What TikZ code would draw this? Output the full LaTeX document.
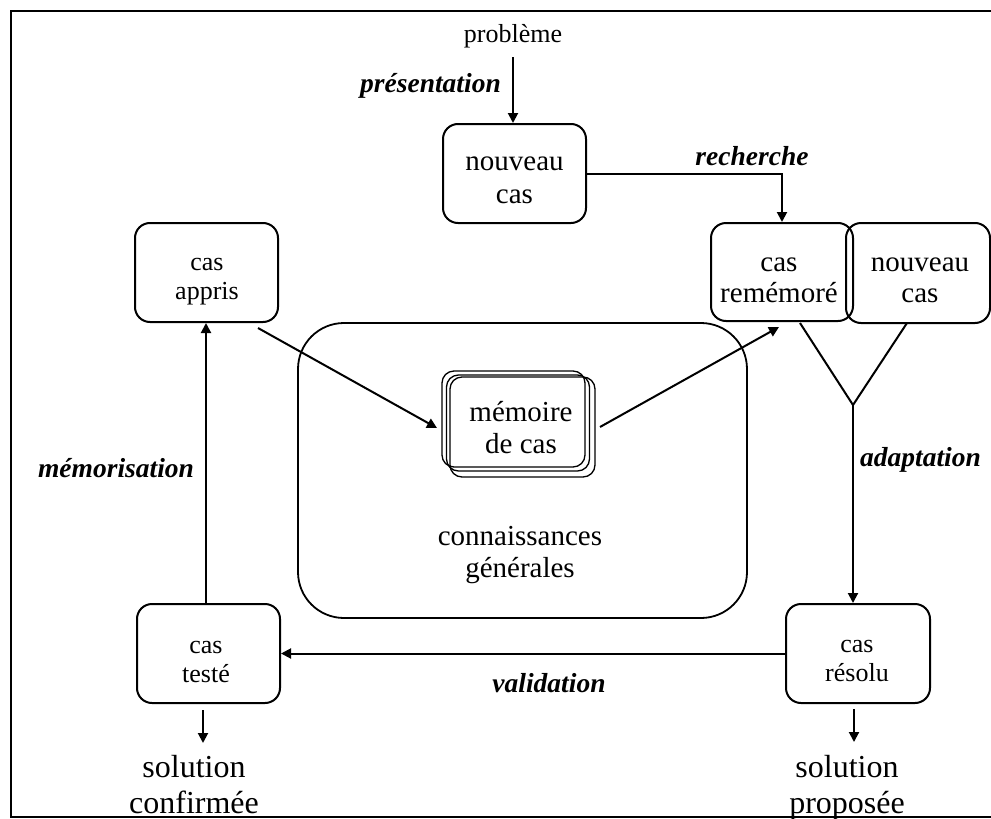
\documentclass[tikz,border=0pt]{standalone}
\usepackage{fontspec}
\setmainfont{Liberation Serif}
\usetikzlibrary{arrows.meta}

\tikzset{
  frameline/.style={line width=2pt},
  box/.style={draw, line width=2pt, rounded corners=15pt, inner sep=0pt},
  stackbox/.style={draw, line width=1.3pt, rounded corners=12pt, inner sep=0pt,
    minimum width=143pt, minimum height=96pt},
  bigbox/.style={draw, line width=1.8pt, rounded corners=46pt, inner sep=0pt},
  txtS/.style={font=\fontsize{26}{29}\selectfont, align=center, inner sep=0pt},
  txtM/.style={font=\fontsize{29}{32}\selectfont, align=center, inner sep=0pt},
  txtL/.style={font=\fontsize{32}{36}\selectfont, align=center, inner sep=0pt},
  lbl/.style={font=\fontsize{27.5}{30}\selectfont\bfseries\itshape, inner sep=0pt},
  conn/.style={line width=2pt},
  arr/.style={conn, -{Triangle[length=10pt,width=10pt]}}
}

\begin{document}
\begin{tikzpicture}[x=1pt,y=-1pt]
\useasboundingbox (0,0) rectangle (991,819);

% outer frame (its right side runs off the page)
\draw[frameline] (995,11) -- (11,11) -- (11,817) -- (995,817);

% general knowledge area with the stacked case memory
\node[bigbox, minimum width=449pt, minimum height=295pt] (gen) at (522.5,470.5) {};
\node[txtM] (gen-t) at (520,554.6) {\strut connaissances\\\strut générales};

\node[stackbox] (mem-b2) at (513.5,419) {};
\node[stackbox] (mem-b1) at (518,423) {};
\node[stackbox, minimum width=145pt, minimum height=100pt] (memoire) at (522.5,427) {};
\node[txtM] (memoire-t) at (521,431) {\strut mémoire\\\strut de cas};

% case boxes
\node[box, minimum width=143pt, minimum height=99pt] (nouveau) at (514.5,173.5) {};
\node[txtM, font=\fontsize{29}{33}\selectfont] (nouveau-t) at (514.5,180) {\strut nouveau\\\strut cas};

\node[box, minimum width=142pt, minimum height=98pt] (remem) at (782,272) {};
\node[txtM, font=\fontsize{29}{31}\selectfont] (remem-t) at (779,281) {\strut cas\\\strut remémoré};

\node[box, minimum width=144pt, minimum height=100pt] (nouv2) at (918,273) {};
\node[txtM, font=\fontsize{29}{31}\selectfont] (nouv2-t) at (920,281) {\strut nouveau\\\strut cas};

\node[box, minimum width=143pt, minimum height=99pt] (appris) at (206.5,272.5) {};
\node[txtS] (appris-t) at (207,279) {\strut cas\\\strut appris};

\node[box, minimum width=143pt, minimum height=99pt] (teste) at (208.5,653.5) {};
\node[txtS] (teste-t) at (206,662) {\strut cas\\\strut testé};

\node[box, minimum width=144pt, minimum height=99pt] (resolu) at (858,653.5) {};
\node[txtS] (resolu-t) at (857,661) {\strut cas\\\strut résolu};

% free texts
\node[txtS, anchor=base] (prob) at (513,42) {problème};
\node[txtL] (solc) at (194,788) {\strut solution\\\strut confirmée};
\node[txtL] (solp) at (847,788) {\strut solution\\\strut proposée};

% step labels
\node[lbl, anchor=base east] (l-pres) at (501,92) {présentation};
\node[lbl, anchor=base] (l-rech) at (752,165) {recherche};
\node[lbl, anchor=base west] (l-adap) at (860,466) {adaptation};
\node[lbl, anchor=base] (l-memo) at (116,477) {mémorisation};
\node[lbl, anchor=base] (l-vali) at (549,692) {validation};

% connector end points
\coordinate (p-top) at (513,57);
\coordinate (vl) at (800,323);
\coordinate (vr) at (907,323);
\coordinate (vtx) at (853,405);
\coordinate (a-in) at (258,328);
\coordinate (a-out) at (437,428);
\coordinate (m-in) at (600,427);
\coordinate (m-out) at (779,327);
\coordinate (tc) at (203,710);
\coordinate (rc) at (854,709);

% connectors
\draw[arr] (p-top) -- (p-top |- nouveau.north);
\draw[arr] (nouveau.east) -| (remem.north);
\draw[conn] (vl) -- (vtx) -- (vr);
\draw[arr] (vtx) -- (vtx |- resolu.north);
\draw[arr] (resolu.west) -- (teste.east);
\draw[arr] (206,604) -- (206,323);
\draw[arr] (a-in) -- (a-out);
\draw[arr] (m-in) -- (m-out);
\draw[arr] (tc) -- (203,743);
\draw[arr] (rc) -- (854,742);
\end{tikzpicture}
\end{document}
